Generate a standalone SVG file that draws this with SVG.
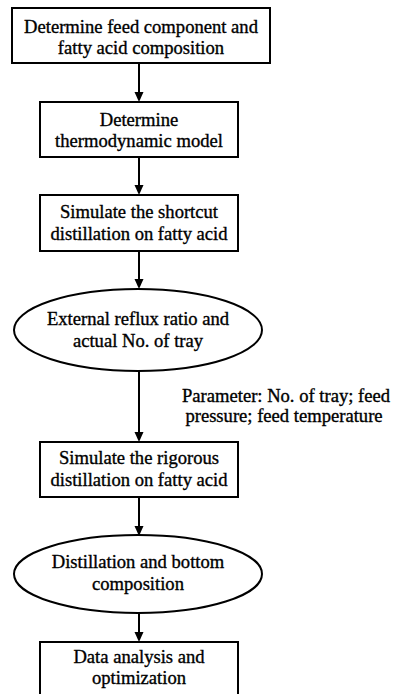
<svg xmlns="http://www.w3.org/2000/svg" width="394" height="694" viewBox="0 0 394 694">
<style>
.box{fill:#fff;stroke:#000;stroke-width:2}
.t{font-family:'Liberation Serif','DejaVu Serif',serif;font-size:18.6px;fill:#000;stroke:#000;stroke-width:0.35;text-anchor:middle}
.c{stroke:#000;stroke-width:2;fill:none}
</style>
<rect width="394" height="694" fill="#fff"/>
<g id="connectors">
<line class="c" x1="139" y1="63" x2="139" y2="92"/><path d="M134.5,92 L143.5,92 L139,102 Z"/>
<line class="c" x1="139" y1="157" x2="139" y2="185"/><path d="M134.5,185 L143.5,185 L139,195 Z"/>
<line class="c" x1="139" y1="251" x2="139" y2="279"/><path d="M134.5,279 L143.5,279 L139,289 Z"/>
<line class="c" x1="139" y1="371" x2="139" y2="432"/><path d="M134.5,432 L143.5,432 L139,442 Z"/>
<line class="c" x1="139" y1="497" x2="139" y2="526"/><path d="M134.5,526 L143.5,526 L139,536 Z"/>
<line class="c" x1="139" y1="613" x2="139" y2="632"/><path d="M134.5,632 L143.5,632 L139,642 Z"/>
</g>
<g id="n1"><rect class="box" x="12" y="8" width="258" height="55"/>
<text class="t" x="141" y="33" font-family="Liberation Serif">Determine feed component and</text>
<text class="t" x="141" y="54" font-family="Liberation Serif">fatty acid composition</text></g>
<g id="n2"><rect class="box" x="40" y="102" width="198" height="55"/>
<text class="t" x="139" y="126">Determine</text>
<text class="t" x="139" y="147">thermodynamic model</text></g>
<g id="n3"><rect class="box" x="40" y="195" width="198" height="56"/>
<text class="t" x="139" y="218">Simulate the shortcut</text>
<text class="t" x="139" y="240">distillation on fatty acid</text></g>
<g id="n4"><ellipse class="box" cx="138" cy="330" rx="124" ry="41"/>
<text class="t" x="138" y="325">External reflux ratio and</text>
<text class="t" x="138" y="347">actual No. of tray</text></g>
<g id="label"><text class="t" x="286" y="402">Parameter: No. of tray; feed</text>
<text class="t" x="284" y="422">pressure; feed temperature</text></g>
<g id="n5"><rect class="box" x="40" y="442" width="198" height="55"/>
<text class="t" x="139" y="464">Simulate the rigorous</text>
<text class="t" x="139" y="486">distillation on fatty acid</text></g>
<g id="n6"><ellipse class="box" cx="138" cy="574" rx="124" ry="39"/>
<text class="t" x="138" y="568">Distillation and bottom</text>
<text class="t" x="138" y="590">composition</text></g>
<g id="n7"><rect class="box" x="40" y="642" width="198" height="60"/>
<text class="t" x="139" y="663">Data analysis and</text>
<text class="t" x="139" y="684">optimization</text></g>
</svg>
